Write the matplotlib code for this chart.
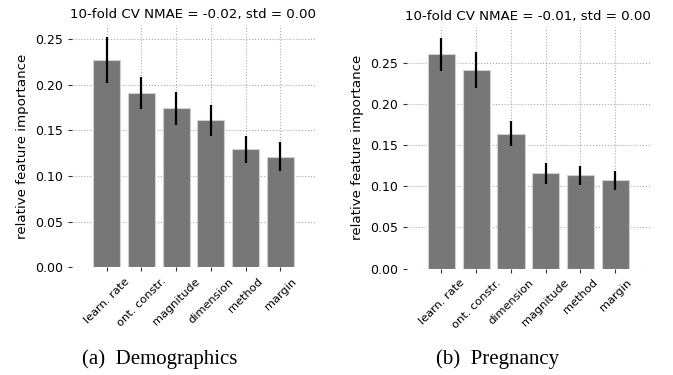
import matplotlib.pyplot as plt
import numpy as np

# feature importances
demo_features = ['learn. rate', 'ont. constr.', 'magnitude', 'dimension', 'method', 'margin']
demo_importance = [0.227, 0.191, 0.174, 0.161, 0.129, 0.121]
demo_std = [0.0256, 0.0176, 0.018, 0.0172, 0.0148, 0.016]

preg_features = ['learn. rate', 'ont. constr.', 'dimension', 'magnitude', 'method', 'margin']
preg_importance = [0.260, 0.241, 0.164, 0.1156, 0.1132, 0.1071]
preg_std = [0.0197, 0.022, 0.015, 0.0127, 0.0115, 0.0117]

titles = ['10-fold CV NMAE = -0.02, std = 0.00', '10-fold CV NMAE = -0.01, std = 0.00']
captions = ['(a)  Demographics', '(b)  Pregnancy']

fig = plt.figure(figsize=(6.73, 3.75), dpi=100)
axes_rects = [[0.107, 0.2872, 0.361, 0.646], [0.6043, 0.2835, 0.3615, 0.6453]]
caption_x = [0.238, 0.739]

panels = [(demo_features, demo_importance, demo_std),
          (preg_features, preg_importance, preg_std)]

for i, (feats, vals, errs) in enumerate(panels):
    ax = fig.add_axes(axes_rects[i])
    x = np.arange(len(feats))
    ax.bar(x, vals, width=0.78, color='#777777', edgecolor='#d0d0d0', linewidth=0.8,
           yerr=errs, error_kw={'ecolor': 'black', 'elinewidth': 1.6, 'capsize': 0})
    ax.set_xlim(-1, 6)
    ax.set_xticks(x)
    ax.set_xticklabels(feats, rotation=45, fontsize=8.2)
    ax.set_yticks([0, 0.05, 0.10, 0.15, 0.20, 0.25])
    ax.set_yticklabels(['0.00', '0.05', '0.10', '0.15', '0.20', '0.25'], fontsize=9)
    ax.tick_params(length=3, width=0.8, color='#333333', pad=3.5)
    ax.set_axisbelow(True)
    ax.grid(True, linestyle=':', color='#aaaaaa', linewidth=0.8)
    for s in ax.spines.values():
        s.set_visible(False)
    ax.set_ylabel('relative feature importance', fontsize=9.6, labelpad=4)
    ax.set_title(titles[i], fontsize=9.6, pad=5)
    fig.text(caption_x[i], 0.043, captions[i], ha='center', va='center',
             family='Liberation Serif', fontsize=15)

fig.savefig('out.png', dpi=100)
